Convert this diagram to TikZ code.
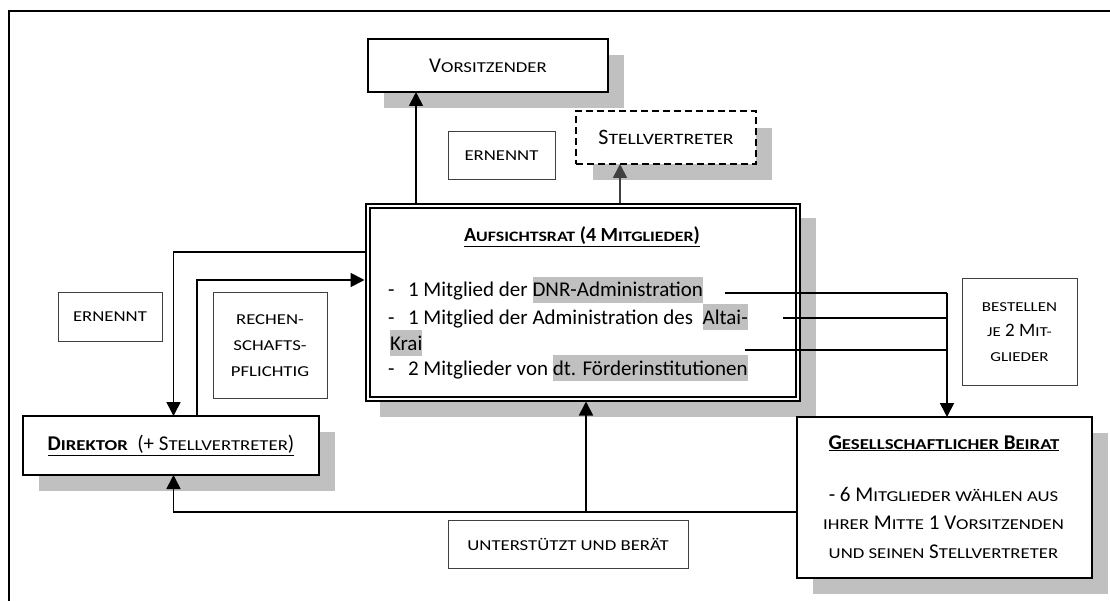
\documentclass[tikz,border=0pt]{standalone}
\usepackage{fontspec}
\setmainfont{Carlito}
\newfontfamily\scf[FakeStretch=1.24]{Carlito}
\usetikzlibrary{arrows.meta,backgrounds}
\definecolor{shd}{HTML}{C0C0C0}
\definecolor{hlc}{HTML}{C0C0C0}
\definecolor{lbl}{HTML}{404040}
\definecolor{darr}{HTML}{404040}
\makeatletter
\newcommand\sm[1]{{\scf\fontsize{\fpeval{0.72*\f@size}}{0}\selectfont #1}}
\makeatother
\newcommand\fs[2]{\fontsize{#1}{#2}\selectfont}
\newcommand\hl[1]{{\setlength\fboxsep{0pt}\colorbox{hlc}{\rule[-6pt]{0pt}{26pt}#1}}}
\begin{document}
\begin{tikzpicture}[x=1pt,y=-1pt,
  every node/.style={outer sep=0pt,inner sep=0pt},
  bx/.style={draw=black,line width=2pt,fill=white,align=center},
  lab/.style={draw=lbl,line width=1pt,fill=white,align=center,font=\fs{21}{26}},
  ln/.style={line width=1.7pt},
  arr/.style={line width=1.7pt,-{Triangle[width=14pt,length=14pt]}},
  arrg/.style={line width=1.7pt,draw=darr,-{Triangle[width=14pt,length=14pt]},darr},
  shadow/.style={fill=shd}]
\useasboundingbox (0,0) rectangle (1110,601);
% frame
\draw[line width=1.6pt] (9,601) -- (9,11) -- (1110,11);

% main boxes
\node[bx,minimum width=240pt,minimum height=53pt,font=\fs{21}{26}] (vors) at (488,65.5) {V\sm{ORSITZENDER}};
\node[bx,dash pattern=on 7pt off 4pt,minimum width=180pt,minimum height=53pt,font=\fs{22}{28}] (stv) at (666,137.5) {S\sm{TELLVERTRETER}};
\node[draw=black,fill=white,line width=2pt,double,double distance=2pt,outer sep=3pt,minimum width=430pt,minimum height=192pt] (auf) at (582.5,302.5) {};
\node[bx,minimum width=296pt,minimum height=59pt,font=\fs{21}{26}] (dir) at (171,445.5) {\underline{\textbf{D\sm{IREKTOR}}~~(+ S\sm{TELLVERTRETER})}};
\node[bx,minimum width=295pt,minimum height=161pt] (bei) at (944.5,497.5) {};

% shadows
\begin{scope}[on background layer]
\fill[shadow] ([shift={(16pt,-16pt)}]vors.north west) rectangle ([shift={(16pt,-16pt)}]vors.south east);
\fill[shadow] ([shift={(17pt,-17pt)}]stv.north west) rectangle ([shift={(16pt,-16pt)}]stv.south east);
\fill[shadow] ([shift={(15pt,-15pt)}]auf.north west) rectangle ([shift={(15pt,-15pt)}]auf.south east);
\fill[shadow] ([shift={(16pt,-16pt)}]dir.north west) rectangle ([shift={(16pt,-16pt)}]dir.south east);
\fill[shadow] ([shift={(16pt,-16pt)}]bei.north west) rectangle ([shift={(16pt,-16pt)}]bei.south east);
\end{scope}

% label boxes
\node[lab,minimum width=107pt,minimum height=48pt] (ern1) at (501.5,156) {\sm{ERNENNT}};
\node[lab,minimum width=104pt,minimum height=48pt] (ern2) at (110,317) {\sm{ERNENNT}};
\node[lab,minimum width=114pt,minimum height=105pt] (rech) at (270,345.5) {\sm{RECHEN-}\\\sm{SCHAFTS-}\\\sm{PFLICHTIG}};
\node[lab,minimum width=115pt,minimum height=106pt,font=\fs{19}{25}] (best) at (1019.5,332) {\sm{BESTELLEN}\\\sm{JE} 2 M\sm{IT-}\\\sm{GLIEDER}};
\node[lab,minimum width=240pt,minimum height=48pt] (unt) at (568,544) {\sm{UNTERSTÜTZT UND BERÄT}};

% Aufsichtsrat text
\node[anchor=base,font=\fs{20}{24}\bfseries] (atit) at (582,242) {\underline{A\sm{UFSICHTSRAT} (4 M\sm{ITGLIEDER})}};
\node[anchor=base west,font=\fs{21}{26}] (a1) at (388,297) {-\hspace{13.6pt}1 Mitglied der \hl{DNR-Administration}};
\node[anchor=base west,font=\fs{21}{26}] (a2) at (388,324) {-\hspace{13.6pt}1 Mitglied der Administration des~~\hl{Altai-}};
\node[anchor=base west,font=\fs{21}{26}] (a3) at (390,350) {\hl{Krai}};
\node[anchor=base west,font=\fs{21}{26}] (a4) at (388,375) {-\hspace{13.6pt}2 Mitglieder von \hl{dt. Förderinstitutionen}};

% Beirat text
\node[anchor=base,font=\fs{21}{26}\bfseries] (btit) at (944,449) {\underline{G\sm{ESELLSCHAFTLICHER} B\sm{EIRAT}}};
\node[anchor=base,font=\fs{21}{26}] (b1) at (943.5,501) {- 6 M\sm{ITGLIEDER WÄHLEN AUS}};
\node[anchor=base,font=\fs{21}{26}] (b2) at (943.5,529) {\sm{IHRER} M\sm{ITTE} 1 V\sm{ORSITZENDEN}};
\node[anchor=base,font=\fs{21}{26}] (b3) at (943.5,558) {\sm{UND SEINEN} S\sm{TELLVERTRETER}};

% connectors
\coordinate (v) at ([xshift=-72pt]vors.south);
\draw[arr] (v |- auf.north) -- (v);
\coordinate (s) at ([xshift=-46pt]stv.south);
\draw[arrg] (s |- auf.north) -- (s);

\coordinate (l1) at ([yshift=50.5pt]auf.west);
\coordinate (d1) at ([xshift=2.5pt]dir.north);
\draw[arr] (l1) -| (d1);
\coordinate (d2) at ([xshift=26pt]dir.north);
\coordinate (l2) at ([yshift=22.5pt]auf.west);
\draw[arr] (d2) |- (l2);

\coordinate (bw) at ([yshift=-14.5pt]bei.west);
\coordinate (d3) at ([xshift=2.5pt]dir.south);
\draw[arr] (bw) -| (d3);
\coordinate (as) at ([xshift=3.5pt]auf.south);
\draw[arr] (bw -| as) -- (as);

\coordinate (bn) at ([xshift=2.5pt]bei.north);
\coordinate (r1) at (725,293);
\coordinate (r2) at (783,318);
\coordinate (r3) at (745,350);
\draw[ln] (r1) -- (r1 -| bn);
\draw[ln] (r2) -- (r2 -| bn);
\draw[ln] (r3) -- (r3 -| bn);
\draw[arr] (r1 -| bn) -- (bn);
\end{tikzpicture}
\end{document}
